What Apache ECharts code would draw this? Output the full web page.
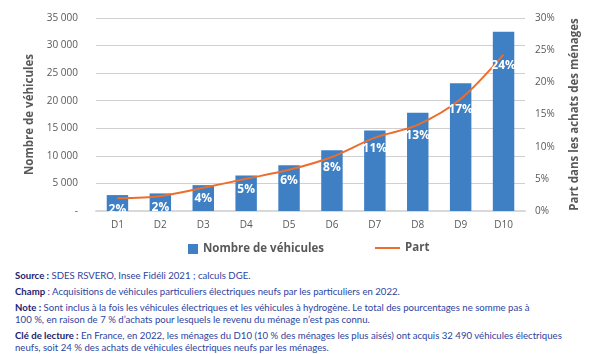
<!DOCTYPE html>
<html>
<head>
<meta charset="utf-8">
<script src="https://cdn.jsdelivr.net/npm/echarts@6/dist/echarts.min.js"></script>
<style>
  body { margin: 0; width: 595px; height: 354px; background: #fff; overflow: hidden; }
  #chart { position: absolute; left: 0; top: 0; width: 595px; height: 260px; }
  .notes { position: absolute; left: 15px; top: 270px; width: 575px; white-space: nowrap; font-family: Lato, sans-serif; font-size: 9.6px; color: #2d43a0; }
  .notes p { margin: 0 0 4px 0; line-height: 12px; }
  .notes b { color: #1b2470; }
</style>
</head>
<body>
<div id="chart"></div>
<div class="notes">
  <p><b>Source :</b> SDES RSVERO, Insee Fidéli 2021 ; calculs DGE.</p>
  <p><b>Champ</b> : Acquisitions de véhicules particuliers électriques neufs par les particuliers en 2022.</p>
  <p><b>Note :</b> Sont inclus à la fois les véhicules électriques et les véhicules à hydrogène. Le total des pourcentages ne somme pas à<br>100 %, en raison de 7 % d’achats pour lesquels le revenu du ménage n’est pas connu.</p>
  <p><b>Clé de lecture :</b> En France, en 2022, les ménages du D10 (10 % des ménages les plus aisés) ont acquis 32 490 véhicules électriques<br>neufs, soit 24 % des achats de véhicules électriques neufs par les ménages.</p>
</div>
<script>
// déciles de revenu
const deciles = ["D1", "D2", "D3", "D4", "D5", "D6", "D7", "D8", "D9", "D10"];
const nbVehicules = [2890, 3190, 4690, 6440, 8300, 11000, 14620, 17810, 23160, 32490];
const partMenages = [2.0, 2.3, 3.6, 5.0, 6.4, 8.4, 11.4, 13.4, 17.4, 24.3];

const chart = echarts.init(document.getElementById("chart"));
const grey = "#595959";
const blue = "#3f80c5";
const orange = "#ed6d2b";
const fmtNombre = (v) => (v === 0 ? "-" : String(v).replace(/\B(?=(\d{3})+(?!\d))/g, " "));
const legendText = { fontSize: 11.5, fontWeight: "bold", color: grey, fontFamily: "Open Sans" };

chart.setOption({
  animation: false,
  textStyle: { fontFamily: "Open Sans" },
  grid: { left: 96, right: 70, top: 18, bottom: 49 },
  legend: [
    {
      left: 183,
      top: 238,
      itemWidth: 10,
      itemHeight: 10,
      itemGap: 4,
      textStyle: legendText,
      data: [{ name: "Nombre de véhicules", icon: "rect" }],
    },
    {
      left: 370,
      top: 237,
      itemWidth: 25,
      itemHeight: 2,
      textStyle: legendText,
      data: [{ name: "Part", icon: "rect" }],
    },
  ],
  xAxis: {
    type: "category",
    data: deciles,
    axisLine: { lineStyle: { color: "#d9d9d9", width: 2 } },
    axisTick: { show: false },
    axisLabel: { color: grey, fontSize: 10, margin: 9 },
  },
  yAxis: [
    {
      type: "value",
      min: 0,
      max: 35000,
      interval: 5000,
      name: "Nombre de véhicules",
      nameLocation: "middle",
      nameRotate: 90,
      nameGap: 60,
      nameTextStyle: { fontSize: 11.5, fontWeight: "bold", color: grey },
      axisLabel: { color: grey, fontSize: 10, margin: 18, formatter: fmtNombre },
      splitLine: { lineStyle: { color: "#d0d0d0", width: 1 } },
      axisLine: { show: false },
      axisTick: { show: false },
    },
    {
      type: "value",
      min: 0,
      max: 30,
      interval: 5,
      position: "right",
      name: "Part dans les achats des ménages",
      nameLocation: "middle",
      nameRotate: 90,
      nameGap: 44,
      nameTextStyle: { fontSize: 11.5, fontWeight: "bold", color: grey },
      axisLabel: { color: grey, fontSize: 10, margin: 10, formatter: "{value}%" },
      splitLine: { show: false },
      axisLine: { show: false },
      axisTick: { show: false },
    },
  ],
  series: [
    {
      name: "Nombre de véhicules",
      type: "bar",
      data: nbVehicules,
      barWidth: "50%",
      itemStyle: { color: blue },
    },
    {
      name: "Part",
      type: "line",
      yAxisIndex: 1,
      data: partMenages,
      smooth: 0.3,
      symbol: "circle",
      symbolSize: 0,
      showSymbol: true,
      itemStyle: { color: orange },
      lineStyle: { color: orange, width: 2 },
      label: {
        show: true,
        position: "bottom",
        distance: 5,
        color: "#fff",
        fontSize: 12,
        fontWeight: "bold",
        formatter: (p) => Math.round(p.value) + "%",
      },
      z: 3,
    },
  ],
});
</script>
</body>
</html>
